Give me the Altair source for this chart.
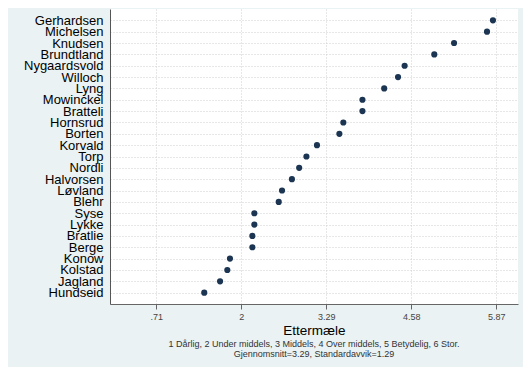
import altair as alt
import pandas as pd

names = ["Gerhardsen", "Michelsen", "Knudsen", "Brundtland", "Nygaardsvold",
         "Willoch", "Lyng", "Mowinckel", "Bratteli", "Hornsrud", "Borten",
         "Korvald", "Torp", "Nordli", "Halvorsen", "Løvland", "Blehr", "Syse",
         "Lykke", "Bratlie", "Berge", "Konow", "Kolstad", "Jagland", "Hundseid"]
values = [5.82, 5.73, 5.23, 4.93, 4.48,
          4.38, 4.17, 3.84, 3.84, 3.55, 3.49,
          3.15, 2.99, 2.88, 2.77, 2.62, 2.57, 2.20,
          2.20, 2.17, 2.17, 1.83, 1.79, 1.68, 1.44]
tick_values = [0.71, 2, 3.29, 4.58, 5.87]
tick_labels = [".71", "2", "3.29", "4.58", "5.87"]
note_lines = ["1 Dårlig, 2 Under middels, 3 Middels, 4 Over middels, 5 Betydelig, 6 Stor.",
              "Gjennomsnitt=3.29, Standardavvik=1.29"]

df = pd.DataFrame({"navn": names, "verdi": values})

label_expr = " : ".join(
    f"datum.value == {v} ? '{l}'" for v, l in zip(tick_values, tick_labels)
) + " : datum.label"

FONT = "Liberation Sans"

chart = alt.Chart(df).mark_circle(size=38, color="#1b3552", opacity=1).encode(
    x=alt.X("verdi:Q",
            scale=alt.Scale(domain=[0.01, 6.2], nice=False, zero=False),
            axis=alt.Axis(title="Ettermæle", values=tick_values, labelExpr=label_expr,
                          grid=True, gridColor="#cfcfcf", gridDash=[1, 2],
                          domainColor="#666666", tickColor="#666666", tickSize=5,
                          labelFontSize=9, labelColor="#444444", labelPadding=3,
                          titleFontSize=13.5, titleFontWeight="normal", titleColor="#000000",
                          titlePadding=2, labelFont=FONT, titleFont=FONT)),
    y=alt.Y("navn:N", sort=names,
            scale=alt.Scale(type="point", padding=1.75),
            axis=alt.Axis(title=None, grid=True, gridColor="#cfcfcf", gridDash=[1, 2],
                          domainColor="#555555", ticks=False, labelPadding=7,
                          labelFontSize=13, labelColor="#000000", labelFont=FONT,
                          labelOverlap=False)),
).properties(
    width=408,
    height=295,
    autosize=alt.AutoSizeParams(type="none"),
    padding={"left": 102, "top": 1, "right": 5, "bottom": 63},
    title=alt.TitleParams(text=note_lines, orient="bottom", anchor="middle",
                          fontSize=9, fontWeight="normal", color="#333333",
                          font=FONT, offset=3, lineHeight=10),
).configure(
    background="#eaf2f3",
).configure_view(
    fill="#ffffff", stroke=None,
)

chart.save("out.html", embed_options={"renderer": "svg", "actions": False})
